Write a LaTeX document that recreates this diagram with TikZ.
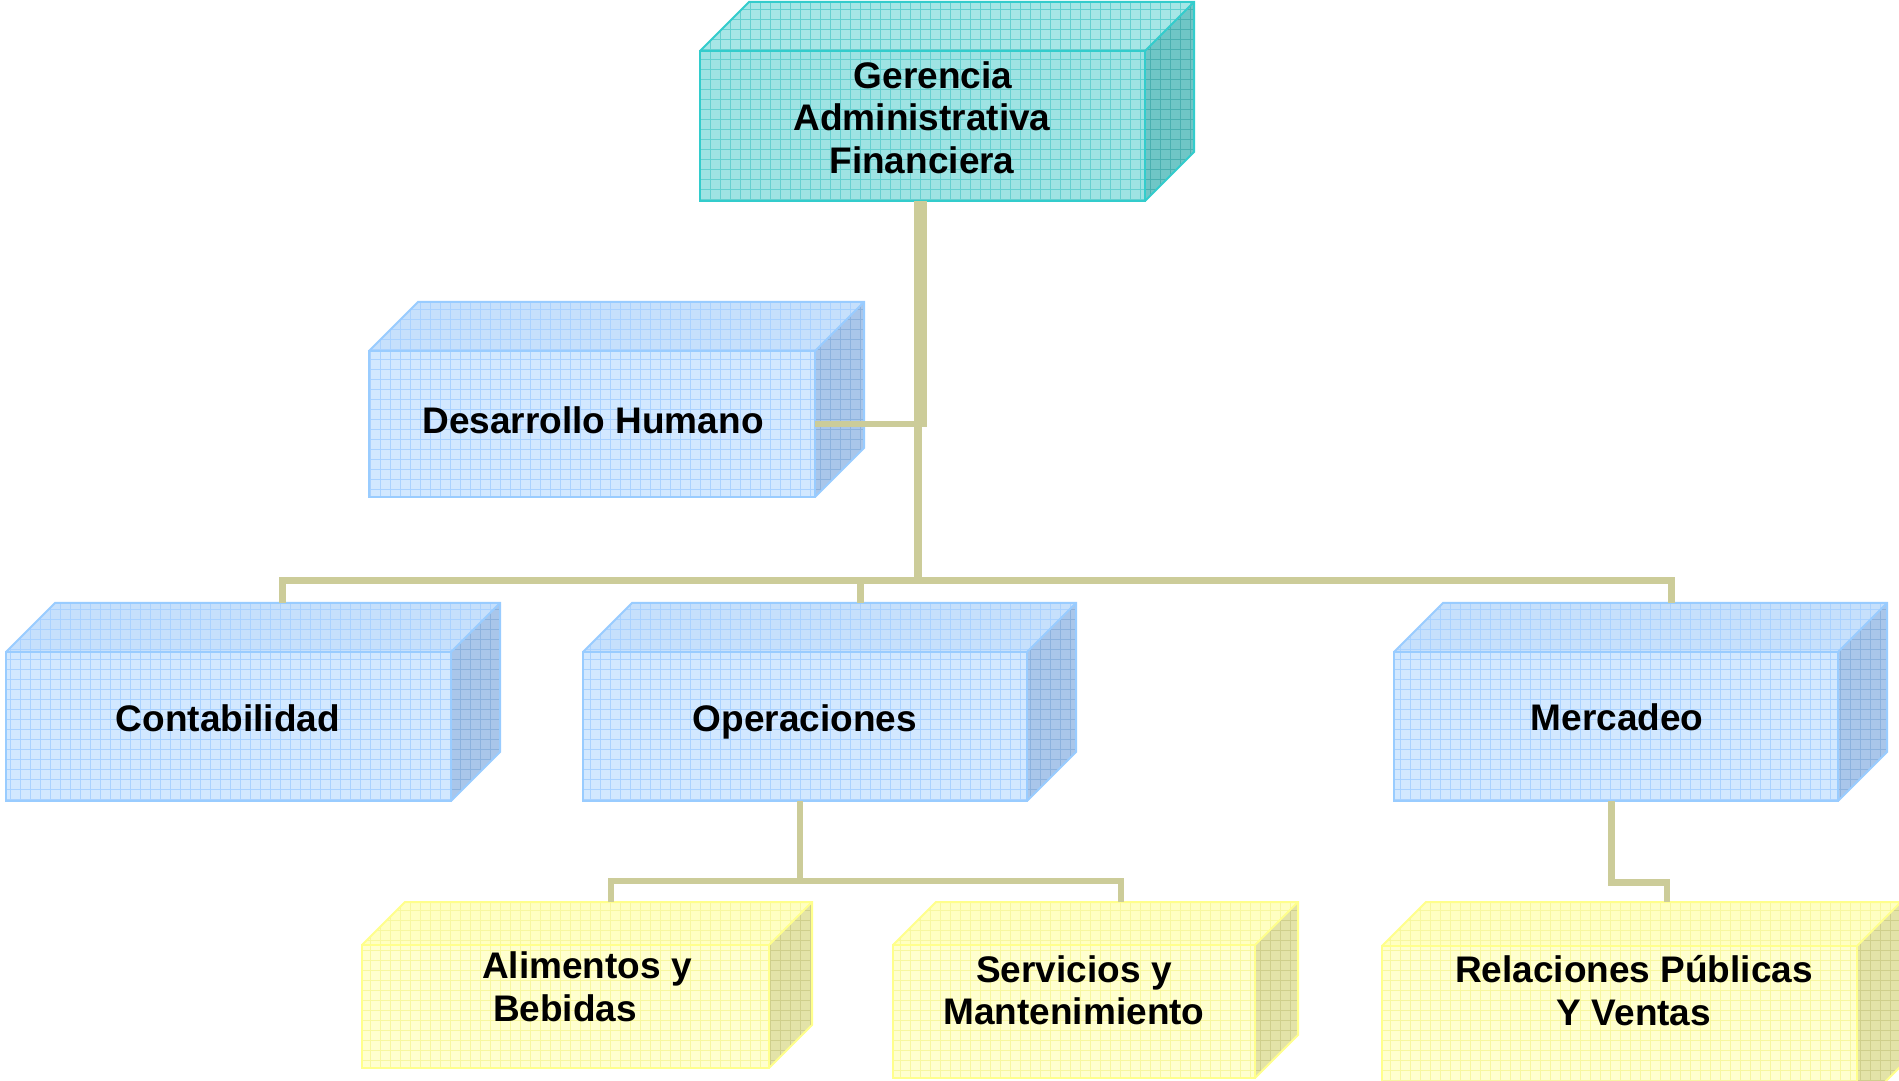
\documentclass[tikz,border=0pt]{standalone}
\usepackage{fontspec}
\setmainfont{Liberation Sans}
\usetikzlibrary{calc}
\definecolor{tlfront}{HTML}{9EE3E3}
\definecolor{tltop}{HTML}{A6E6E6}
\definecolor{tlside}{HTML}{6FC6C6}
\definecolor{tlgrid}{HTML}{66D0D0}
\definecolor{tlsgrid}{HTML}{4AB0B0}
\definecolor{tlline}{HTML}{33CCCC}
\definecolor{blfront}{HTML}{D2E8FF}
\definecolor{bltop}{HTML}{C6E0FC}
\definecolor{blside}{HTML}{A9C6EA}
\definecolor{blgrid}{HTML}{AAD2FF}
\definecolor{blsgrid}{HTML}{8CB2DE}
\definecolor{blline}{HTML}{99CCFF}
\definecolor{ylfront}{HTML}{FFFFCF}
\definecolor{yltop}{HTML}{FFFFC2}
\definecolor{ylside}{HTML}{E3E3A8}
\definecolor{ylgrid}{HTML}{F7F7A0}
\definecolor{ylsgrid}{HTML}{CFCF8C}
\definecolor{ylline}{HTML}{FFFF8C}
\definecolor{conncol}{HTML}{CCCC99}
\newcommand\cubebox[7]{%
  \pgfmathsetmacro\cbXa{#2}%
  \pgfmathsetmacro\cbXb{#4}%
  \pgfmathsetmacro\cbYu{1080-#3}%
  \pgfmathsetmacro\cbYl{1080-#5}%
  \pgfmathsetmacro\cbD{#6}%
  \pgfmathsetmacro\cbW{#4-#2}%
  \pgfmathsetmacro\cbH{#5-#3}%
  \begin{scope}
    \clip (\cbXa,\cbYl) rectangle (\cbXb,\cbYu);
    \fill[#7front] (\cbXa,\cbYl) rectangle (\cbXb,\cbYu);
    \draw[#7grid, line width=1, step=10] (\cbXa-10,\cbYl-10) grid (\cbXb+10,\cbYu+10);
  \end{scope}
  \begin{scope}
    \clip (\cbXa,\cbYu) -- (\cbXa+\cbD,\cbYu+\cbD) -- (\cbXb+\cbD,\cbYu+\cbD) -- (\cbXb,\cbYu) -- cycle;
    \fill[#7top] (\cbXa,\cbYu) rectangle (\cbXb+\cbD,\cbYu+\cbD);
    \draw[#7grid, line width=1, step=10] (\cbXa-10,\cbYu-10) grid (\cbXb+\cbD+10,\cbYu+\cbD+10);
  \end{scope}
  \begin{scope}
    \clip (\cbXb,\cbYu) -- (\cbXb+\cbD,\cbYu+\cbD) -- (\cbXb+\cbD,\cbYl+\cbD) -- (\cbXb,\cbYl) -- cycle;
    \fill[#7side] (\cbXb,\cbYl) rectangle (\cbXb+\cbD,\cbYu+\cbD);
    \draw[#7sgrid, line width=1, step=10] (\cbXb-10,\cbYl-10) grid (\cbXb+\cbD+10,\cbYu+\cbD+10);
  \end{scope}
  \draw[#7line, line width=2, line join=miter]
    (\cbXa,\cbYu) -- (\cbXa+\cbD,\cbYu+\cbD) -- (\cbXb+\cbD,\cbYu+\cbD) -- (\cbXb+\cbD,\cbYl+\cbD) -- (\cbXb,\cbYl)
    (\cbXb,\cbYu) -- (\cbXb+\cbD,\cbYu+\cbD);
  \node[draw=#7line, line width=2, minimum width=\cbW pt, minimum height=\cbH pt,
        inner sep=0pt, outer sep=0pt] (#1) at ({(\cbXa+\cbXb)/2},{(\cbYu+\cbYl)/2}) {};
  \coordinate (#1-tb) at (\cbXa+\cbD,\cbYu+\cbD);
}
\tikzset{
  conn/.style={draw=conncol, line width=7, line cap=butt, line join=miter},
  lbl/.style={align=center, inner sep=0pt, font=\fontsize{37}{42.5}\selectfont\bfseries}
}
\begin{document}
\begin{tikzpicture}[x=1pt,y=1pt]
\useasboundingbox (0,0) rectangle (1899,1080);
\fill[white] (0,0) rectangle (1899,1080);
% boxes
\cubebox{ger}{700}{51}{1145}{201}{49}{tl}
\cubebox{dh}{369}{351}{815}{497}{49}{bl}
\cubebox{cont}{6}{652}{451}{801}{49}{bl}
\cubebox{oper}{583}{652}{1027}{801}{49}{bl}
\cubebox{merc}{1394}{652}{1838}{801}{49}{bl}
\cubebox{alim}{362}{945}{769}{1068}{43}{yl}
\cubebox{serv}{893}{945}{1255}{1078}{43}{yl}
\cubebox{rel}{1382}{946}{1857}{1110}{44}{yl}
% connector points
\coordinate (jdh) at (920,653);
\coordinate (jdh2) at (917.5,656);
\coordinate (jbar) at (917.5,496);
\coordinate (bl) at (282,499.5);
\coordinate (br) at (1671,499.5);
\coordinate (bo) at (860,499.5);
\coordinate (os) at (800,199);
\coordinate (sl) at (611,199);
\coordinate (sr) at (1121,199);
\coordinate (m1) at (1611.5,197.5);
\coordinate (m2) at (1667,197.5);
% connectors
\draw[conn, line width=13] (ger.south -| jdh) -- (jdh);
\draw[conn, line width=8] (jdh2) -- (jbar);
\draw[conn, line width=6] (dh.east |- jdh2) -- (926.5,656);
\draw[conn] (cont-tb -| bl) -- (bl) -- (br) -- (merc-tb -| br);
\draw[conn] (bo) -- (bo |- oper-tb);
\draw[conn, line width=6.5] (oper.south -| os) -- (os);
\draw[conn, line width=6.5] (alim-tb -| sl) -- (sl) -- (sr) -- (serv-tb -| sr);
\draw[conn, line width=6.5] (merc.south -| m1) -- (m1) -- (m2) -- (rel-tb -| m2);
% texts
\node[lbl] (gerT) at (922,1080-117.5) {\hspace*{22pt}Gerencia\\Administrativa\\Financiera};
\node[lbl] (dhT) at (593,1080-420) {Desarrollo Humano};
\node[lbl] (contT) at (228,1080-718) {Contabilidad};
\node[lbl] (operT) at (805,1080-722) {Operaciones};
\node[lbl] (mercT) at (1617,1080-717) {Mercadeo};
\node[lbl] (alimT) at (576,1080-987) {\hspace*{22pt}Alimentos y\\Bebidas\hspace*{22pt}};
\node[lbl] (servT) at (1074,1080-990.5) {Servicios y\\Mantenimiento};
\node[lbl] (relT) at (1634,1080-990.5) {Relaciones Públicas\\Y Ventas};
\end{tikzpicture}
\end{document}
